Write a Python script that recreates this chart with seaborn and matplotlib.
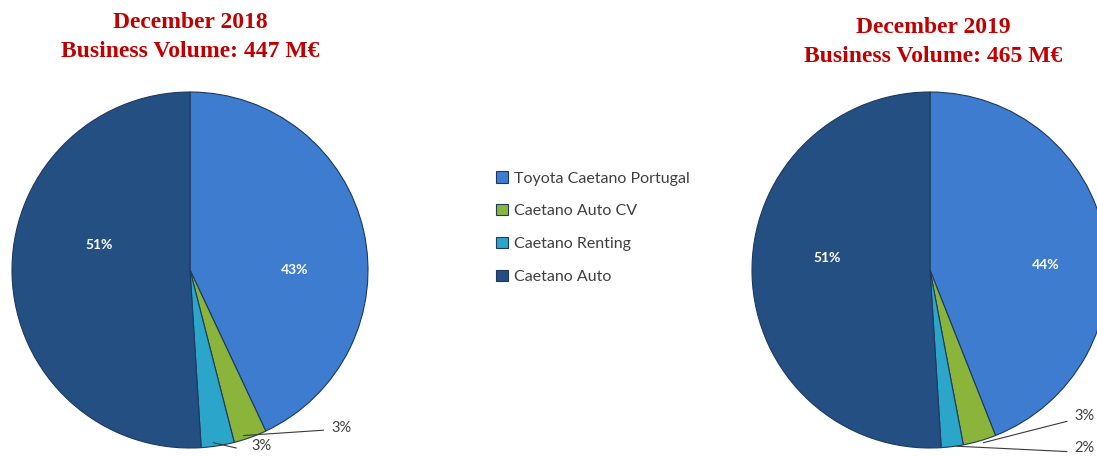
import matplotlib
matplotlib.use("Agg")
import matplotlib.pyplot as plt
import seaborn as sns
import numpy as np

sns.set_theme(style="white")
plt.rcParams['font.family'] = ['Lato', 'DejaVu Sans']

categories = ["Toyota Caetano Portugal", "Caetano Auto CV", "Caetano Renting", "Caetano Auto"]
values_2018 = [43, 3, 3, 51]
values_2019 = [44, 3, 2, 51]
titles = ["December 2018\nBusiness Volume: 447 M€", "December 2019\nBusiness Volume: 465 M€"]
colors = ["#3d7cce", "#8ab53a", "#2ba5c9", "#244f82"]

W, H = 1097, 457
fig = plt.figure(figsize=(W / 100, H / 100), dpi=100)

def pie_axes(cx, cy, r):
    return fig.add_axes([(cx - r) / W, (H - cy - r) / H, 2 * r / W, 2 * r / H])

# label placement styling (axes-data units, radius = 1)
inner_pos = {
    0: [(0.59, 0.0), (-0.51, 0.14)],
    1: [(0.65, 0.03), (-0.58, 0.07)],
}
outer_pos = {
    0: [((0.85, -0.89), (0.30, -0.93), (0.75, -0.90)),
        ((0.40, -0.99), (0.13, -0.97), (0.26, -1.00))],
    1: [((0.87, -0.82), (0.30, -0.97), (0.77, -0.85)),
        ((0.87, -1.0), (0.15, -0.99), (0.77, -1.02))],
}

def draw(ax, vals, idx, title, tx, ty):
    wedges, _ = ax.pie(vals, colors=colors, startangle=90, counterclock=False,
                       radius=1.0,
                       wedgeprops=dict(edgecolor="#1d3a5e", linewidth=0.8))
    ax.set_xlim(-1.0, 1.0)
    ax.set_ylim(-1.0, 1.0)
    ax.set_aspect("equal", adjustable="box")
    ax.axis("off")
    for k, (x, y) in zip([0, 3], inner_pos[idx]):
        ax.text(x, y, f"{vals[k]}%", color="white", fontsize=10, fontweight="bold",
                ha="center", va="center")
    for k, (tpos, p0, p1) in zip([1, 2], outer_pos[idx]):
        ax.plot([p0[0], p1[0]], [p0[1], p1[1]], color="#3a3a3a", lw=0.8, clip_on=False)
        ax.text(tpos[0], tpos[1], f"{vals[k]}%", color="#404040", fontsize=10.5,
                ha="center", va="center", clip_on=False)
    fig.text(tx / W, 1 - ty / H, title, color="#c00000", fontsize=17,
             fontweight="bold", family="Liberation Serif", ha="center", va="center",
             linespacing=1.5)
    return wedges

ax1 = pie_axes(190, 270, 178)
w1 = draw(ax1, values_2018, 0, titles[0], 190, 37)
ax2 = pie_axes(930, 270, 178)
w2 = draw(ax2, values_2019, 1, titles[1], 933, 42)

leg = fig.legend(w1, categories, loc="upper left", bbox_to_anchor=(490 / W, 1 - 165 / H),
                 frameon=False, fontsize=11.5, handlelength=0.7, handleheight=0.7,
                 handletextpad=0.4, labelspacing=1.17, borderaxespad=0)
for t in leg.get_texts():
    t.set_color("#404040")

fig.savefig("out.png", dpi=100)
